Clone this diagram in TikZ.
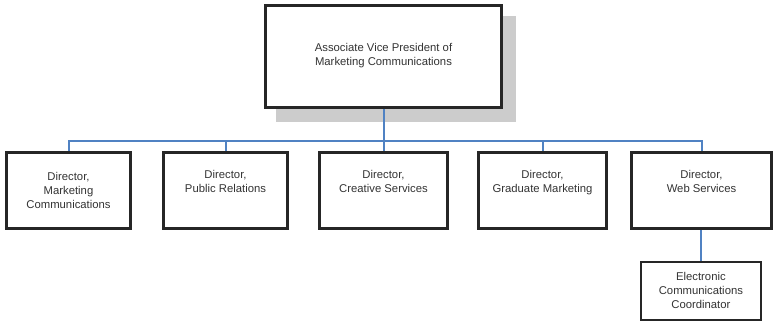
\documentclass[tikz,border=0pt]{standalone}
\usepackage{fontspec}
\setmainfont{Liberation Sans}
\begin{document}
\begin{tikzpicture}[x=1pt,y=-1pt,
  box/.style={draw=black!85, line width=3pt, fill=white, anchor=north west, inner sep=0pt,
    align=center, font=\fontsize{11.3}{14}\selectfont, text=black!80},
  smallbox/.style={box, line width=1.8pt},
  conn/.style={line width=2pt, color={rgb,255:red,80;green,130;blue,195}}]
\useasboundingbox (0,0) rectangle (773,322);
% shadow
\fill[black!20] (276,16) rectangle (516,122);
\node[box, minimum width=236pt, minimum height=102pt] (top) at (264,3.5)
  {Associate Vice President of\\Marketing Communications};
\node[box, minimum width=124pt, minimum height=76pt] (d1) at (5,150.5)
  {Director,\\Marketing\\Communications};
\node[box, minimum width=124pt, minimum height=76pt] (d2) at (162,150.5)
  {Director,\\Public Relations\\[4pt]};
\node[box, minimum width=128pt, minimum height=76pt] (d3) at (318,150.5)
  {Director,\\Creative Services\\[4pt]};
\node[box, minimum width=128pt, minimum height=76pt] (d4) at (477,150.5)
  {Director,\\Graduate Marketing\\[4pt]};
\node[box, minimum width=140pt, minimum height=76pt] (d5) at (630,150.5)
  {Director,\\Web Services\\[4pt]};
\node[smallbox, minimum width=120pt, minimum height=58pt] (ecc) at (640,261)
  {Electronic\\Communications\\Coordinator};
\coordinate (bus) at (top.south |- 0,141);
\draw[conn] (top.south) -- (bus);
\draw[conn] (bus) -| (d1.north);
\draw[conn] (bus) -| (d2.north);
\draw[conn] (bus) -| (d3.north);
\draw[conn] (bus) -| (d4.north);
\draw[conn] (bus) -| (d5.north);
\draw[conn] (ecc.north) -- (ecc.north |- d5.south);
\end{tikzpicture}
\end{document}
